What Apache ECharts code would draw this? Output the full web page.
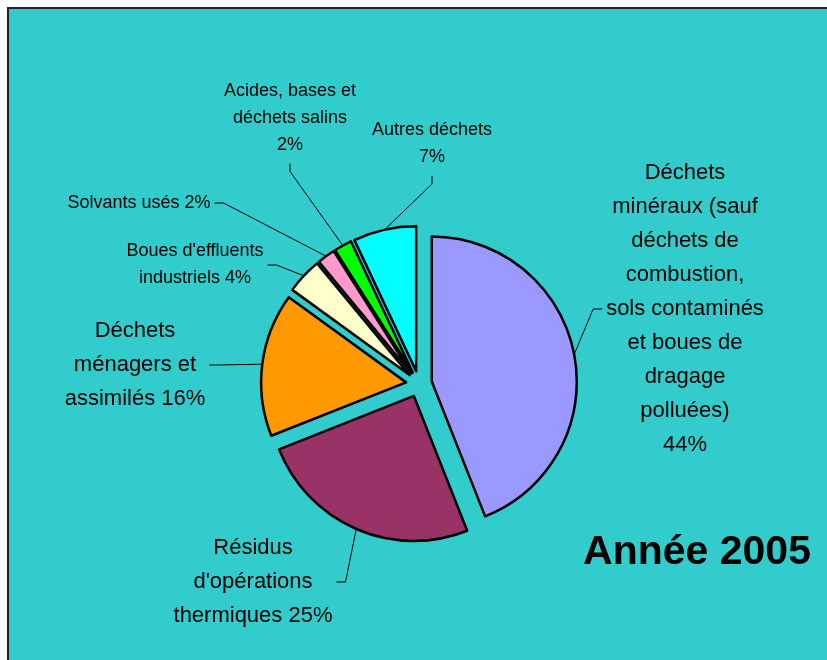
<!DOCTYPE html>
<html>
<head>
<meta charset="utf-8">
<script src="https://cdn.jsdelivr.net/npm/echarts@6/dist/echarts.min.js"></script>
<style>
  html, body { margin: 0; padding: 0; background: #fff; overflow: hidden; }
  #frame {
    position: absolute; left: 7px; top: 7px; width: 840px; height: 670px;
    background: #33cccc; border-top: 2px solid #222; border-left: 2px solid #222;
  }
  #chart { position: absolute; left: 0; top: 0; width: 827px; height: 660px; }
</style>
</head>
<body>
<div id="frame"></div>
<div id="chart"></div>
<script>
// data
const categories = [
  'Déchets\nminéraux (sauf\ndéchets de\ncombustion,\nsols contaminés\net boues de\ndragage\npolluées)',
  'Résidus\nd\'opérations\nthermiques',
  'Déchets\nménagers et\nassimilés',
  'Boues d\'effluents\nindustriels',
  'Solvants usés',
  'Acides, bases et\ndéchets salins',
  'Autres déchets',
];
const shares = [44, 25, 16, 4, 2, 2, 7];
const pctSeparators = ['\n', ' ', ' ', ' ', ' ', '\n', '\n'];
const yearTitle = 'Année 2005';

// styles / layout
const sliceColors = ['#9999ff', '#993366', '#ff9900', '#ffffcc', '#ff99cc', '#00ff00', '#00ffff'];
const labelSpots = [
  { x: 685, y: 309, side: 'left', big: true },
  { x: 253, y: 582, side: 'right', big: true },
  { x: 135, y: 365, side: 'right', big: true },
  { x: 195, y: 265, side: 'right', big: false },
  { x: 139, y: 203, side: 'right', big: false },
  { x: 290, y: 118, side: 'bottom', big: false },
  { x: 432, y: 144, side: 'bottom', big: false },
];
const CX = 419, CY = 384, R = 145, EXPLODE = 13;
const FONT = '"Liberation Sans", Arial, sans-serif';

const chart = echarts.init(document.getElementById('chart'));
const total = shares.reduce((a, b) => a + b, 0);

function guidePoints(params, spot) {
  const p0 = params.labelLinePoints[0];
  const w = params.labelRect.width, h = params.labelRect.height;
  let p2, p1;
  if (spot.side === 'left') {
    p2 = [spot.x - w / 2 - 4, spot.y];
    p1 = [p2[0] - 9, p2[1]];
  } else if (spot.side === 'right') {
    p2 = [spot.x + w / 2 + 4, spot.y];
    p1 = [p2[0] + 9, p2[1]];
  } else {
    p2 = [spot.x, spot.y + h / 2 + 5];
    p1 = [p2[0], p2[1] + 8];
  }
  return [p0, p1, p2];
}

let acc = 0;
const series = shares.map((value, i) => {
  const mid = (90 - (acc + value / 2) / total * 360) * Math.PI / 180;
  acc += value;
  const spot = labelSpots[i];
  return {
    type: 'pie',
    center: [CX + EXPLODE * Math.cos(mid), CY - EXPLODE * Math.sin(mid)],
    radius: R,
    startAngle: 90,
    silent: true,
    animation: false,
    avoidLabelOverlap: false,
    data: shares.map((v, j) => (j === i ? {
      value: v,
      name: categories[j],
      itemStyle: { color: sliceColors[j], borderColor: '#000', borderWidth: 2.5 },
      label: {
        show: true,
        position: 'outside',
        formatter: (p) => p.name + pctSeparators[p.dataIndex] + p.value + '%',
        color: '#000',
        fontFamily: FONT,
        fontSize: spot.big ? 22 : 18,
        lineHeight: spot.big ? 34 : 27,
        align: 'center',
      },
      labelLine: { show: true, lineStyle: { color: '#000', width: 1 } },
    } : {
      value: v,
      name: categories[j],
      itemStyle: { color: 'transparent', borderWidth: 0 },
      label: { show: false },
      labelLine: { show: false },
    })),
    labelLayout: (params) => {
      if (params.dataIndex !== i) return {};
      return {
        x: spot.x,
        y: spot.y,
        align: 'center',
        verticalAlign: 'middle',
        labelLinePoints: guidePoints(params, spot),
      };
    },
  };
});

chart.setOption({
  backgroundColor: 'transparent',
  graphic: [{
    type: 'text',
    x: 697,
    y: 553,
    style: {
      text: yearTitle,
      fill: '#000',
      font: 'bold 41px "Liberation Sans", Arial, sans-serif',
      textAlign: 'center',
      textVerticalAlign: 'middle',
    },
  }],
  series: series,
});
</script>
</body>
</html>
